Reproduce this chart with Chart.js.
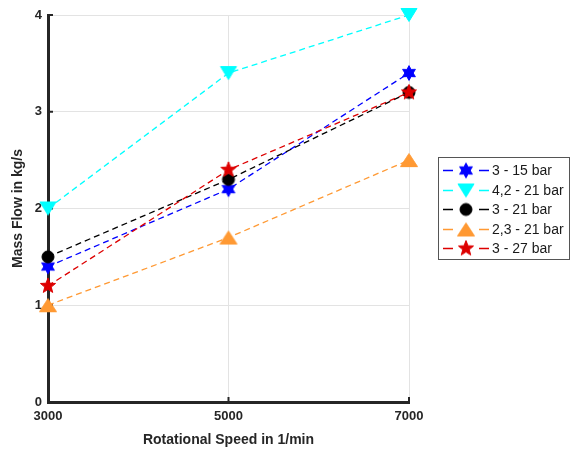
<!DOCTYPE html>
<html>
<head>
<meta charset="utf-8">
<script src="https://cdn.jsdelivr.net/npm/chart.js@4.4.0/dist/chart.umd.min.js"></script>
<style>
  html, body { margin: 0; padding: 0; background: #fff; }
</style>
</head>
<body>
<canvas id="myChart" width="571" height="452"></canvas>
<script>
// data
const speeds = [3000, 5000, 7000];
const seriesNames = ["3 - 15 bar", "4,2 - 21 bar", "3 - 21 bar", "2,3 - 21 bar", "3 - 27 bar"];
const flow315 = [1.4, 2.2, 3.4];
const flow4221 = [2.0, 3.4, 4.0];
const flow321 = [1.5, 2.3, 3.2];
const flow2321 = [1.0, 1.7, 2.5];
const flow327 = [1.2, 2.4, 3.2];
const xTicks = [3000, 5000, 7000];
const yTicks = [0, 1, 2, 3, 4];

const colors = ["#0000ff", "#00ffff", "#000000", "#ff9933", "#dd0000"];
const markerKinds = ["hexagram", "down", "circle", "up", "star"];
const axisColor = "#262626";
const fontFamily = "'Liberation Sans', Arial, Helvetica, sans-serif";

// marker images (chart.js has no filled star / hexagram)
function starPath(ctx, cx, cy, n, rOut, rIn, rot) {
  ctx.beginPath();
  for (let i = 0; i < n * 2; i++) {
    let r = i % 2 === 0 ? rOut : rIn;
    let a = rot + i * Math.PI / n;
    let x = cx + r * Math.sin(a), y = cy - r * Math.cos(a);
    if (i === 0) ctx.moveTo(x, y); else ctx.lineTo(x, y);
  }
  ctx.closePath();
}

function makeMarker(kind, color) {
  let c = document.createElement('canvas');
  c.width = 22; c.height = 22;
  let ctx = c.getContext('2d');
  let cx = 11, cy = 11;
  ctx.fillStyle = color;
  ctx.strokeStyle = color;
  ctx.lineWidth = 1;
  if (kind === 'hexagram') {
    starPath(ctx, cx, cy, 6, 7.4, 4.1, 0);
  } else if (kind === 'star') {
    starPath(ctx, cx, cy, 5, 8, 3.4, 0);
  } else if (kind === 'circle') {
    ctx.beginPath();
    ctx.arc(cx, cy, 6, 0, Math.PI * 2);
  } else if (kind === 'up') {
    ctx.beginPath();
    ctx.moveTo(cx, cy - 6.5);
    ctx.lineTo(cx + 8.5, cy + 6.5);
    ctx.lineTo(cx - 8.5, cy + 6.5);
    ctx.closePath();
  } else if (kind === 'down') {
    ctx.beginPath();
    ctx.moveTo(cx - 8, cy - 6.5);
    ctx.lineTo(cx + 8, cy - 6.5);
    ctx.lineTo(cx, cy + 6.5);
    ctx.closePath();
  }
  ctx.fill();
  ctx.stroke();
  return c;
}

const markerImgs = markerKinds.map((k, i) => makeMarker(k, colors[i]));
const allFlows = [flow315, flow4221, flow321, flow2321, flow327];

const datasets = allFlows.map((vals, i) => ({
  label: seriesNames[i],
  data: speeds.map((s, j) => ({ x: s, y: vals[j] })),
  borderColor: colors[i],
  backgroundColor: colors[i],
  borderWidth: 1.3,
  borderDash: [6, 4],
  pointStyle: markerImgs[i],
  pointRadius: 7,
  tension: 0,
  clip: false,
  order: allFlows.length - i
}));

// small inward tick marks like the original axes
const innerTicks = {
  id: 'innerTicks',
  beforeDatasetsDraw(chart) {
    const ctx = chart.ctx, a = chart.chartArea;
    const xs = chart.scales.x, ys = chart.scales.y;
    ctx.save();
    ctx.strokeStyle = axisColor;
    ctx.lineWidth = 2;
    xTicks.forEach(v => {
      let px = xs.getPixelForValue(v);
      ctx.beginPath(); ctx.moveTo(px, a.bottom); ctx.lineTo(px, a.bottom - 5); ctx.stroke();
    });
    yTicks.forEach(v => {
      let py = ys.getPixelForValue(v);
      ctx.beginPath(); ctx.moveTo(a.left, py); ctx.lineTo(a.left + 5, py); ctx.stroke();
    });
    ctx.restore();
  }
};

// boxed legend with line - marker - line samples
const legendBox = {
  id: 'legendBox',
  afterDraw(chart) {
    const ctx = chart.ctx, a = chart.chartArea;
    const rowH = 19.5;
    const h = rowH * 4 + 25, w = 132;
    const left = a.right + 29;
    const top = (a.top + a.bottom) / 2 - h / 2;
    ctx.save();
    ctx.fillStyle = '#fff';
    ctx.fillRect(left, top, w, h);
    ctx.strokeStyle = '#555';
    ctx.lineWidth = 1;
    ctx.strokeRect(left + 0.5, top + 0.5, w - 1, h - 1);
    ctx.font = '14px ' + fontFamily;
    ctx.textBaseline = 'middle';
    ctx.textAlign = 'left';
    seriesNames.forEach((name, i) => {
      let y = Math.round(top + 13 + i * rowH) + 0.5;
      ctx.strokeStyle = colors[i];
      ctx.lineWidth = 1.3;
      ctx.beginPath();
      ctx.moveTo(left + 5, y); ctx.lineTo(left + 15, y);
      ctx.moveTo(left + 41, y); ctx.lineTo(left + 51, y);
      ctx.stroke();
      let img = markerImgs[i];
      ctx.drawImage(img, left + 28 - img.width / 2, y - img.height / 2);
      ctx.fillStyle = '#1a1a1a';
      ctx.fillText(name, left + 54, y + 1);
    });
    ctx.restore();
  }
};

new Chart(document.getElementById('myChart'), {
  type: 'line',
  data: { datasets: datasets },
  options: {
    responsive: false,
    animation: false,
    devicePixelRatio: 1,
    layout: { padding: { top: 15, right: 162, left: 0, bottom: 0 } },
    plugins: {
      legend: { display: false },
      tooltip: { enabled: false }
    },
    scales: {
      x: {
        type: 'linear',
        min: 3000,
        max: 7000,
        afterBuildTicks: s => { s.ticks = xTicks.map(v => ({ value: v })); },
        afterFit: s => { s.height = 50; },
        grid: { color: '#e3e3e3', lineWidth: 1, drawTicks: false },
        border: { display: true, color: axisColor, width: 3 },
        ticks: {
          padding: 7,
          color: axisColor,
          font: { family: fontFamily, size: 13, weight: 'bold' },
          maxRotation: 0,
          callback: v => String(v)
        },
        title: {
          display: true,
          text: 'Rotational Speed in 1/min',
          color: axisColor,
          font: { family: fontFamily, size: 14, weight: 'bold' },
          padding: { top: 3, bottom: 3 }
        }
      },
      y: {
        min: 0,
        max: 4,
        afterBuildTicks: s => { s.ticks = yTicks.map(v => ({ value: v })); },
        afterFit: s => { s.width = 48; },
        grid: { color: '#e3e3e3', lineWidth: 1, drawTicks: false },
        border: { display: true, color: axisColor, width: 3 },
        ticks: {
          padding: 6,
          color: axisColor,
          font: { family: fontFamily, size: 13, weight: 'bold' }
        },
        title: {
          display: true,
          text: 'Mass Flow in kg/s',
          color: axisColor,
          font: { family: fontFamily, size: 14, weight: 'bold' },
          padding: { top: 10, bottom: 0 }
        }
      }
    }
  },
  plugins: [innerTicks, legendBox]
});
</script>
</body>
</html>
